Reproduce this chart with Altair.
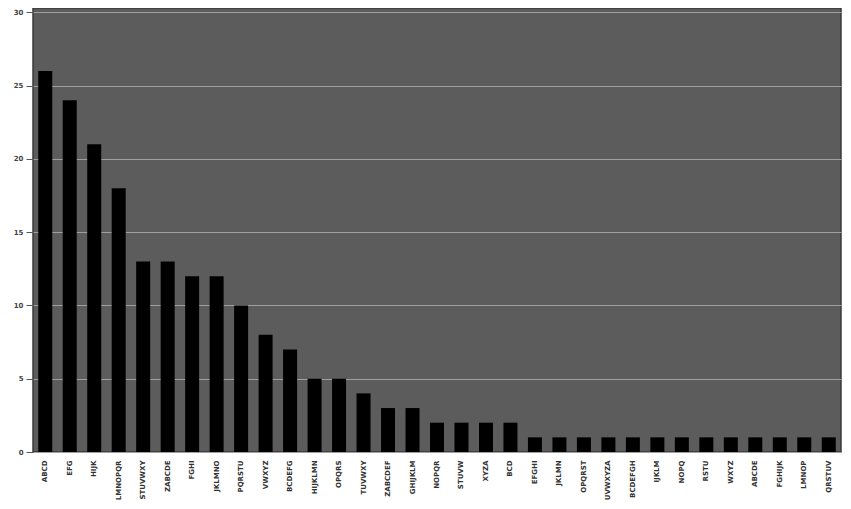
import altair as alt
import pandas as pd

categories = [
    "ABCD", "EFG", "HIJK", "LMNOPQR", "STUVWXY", "ZABCDE", "FGHI", "JKLMNO",
    "PQRSTU", "VWXYZ", "BCDEFG", "HIJKLMN", "OPQRS", "TUVWXY", "ZABCDEF",
    "GHIJKLM", "NOPQR", "STUVW", "XYZA", "BCD", "EFGHI", "JKLMN", "OPQRST",
    "UVWXYZA", "BCDEFGH", "IJKLM", "NOPQ", "RSTU", "WXYZ", "ABCDE",
    "FGHIJK", "LMNOP", "QRSTUV",
]
values = [26, 24, 21, 18, 13, 13, 12, 12, 10, 8, 7, 5, 5, 4, 3, 3, 2, 2, 2, 2,
          1, 1, 1, 1, 1, 1, 1, 1, 1, 1, 1, 1, 1]
y_ticks = [0, 5, 10, 15, 20, 25, 30]

df = pd.DataFrame({"cat": categories, "val": values, "order": list(range(len(values)))})

chart = alt.Chart(df).mark_bar(color="#000000", size=14).encode(
    x=alt.X("cat:N", sort=alt.SortField("order"), title=None,
            axis=alt.Axis(labelAngle=-90, labelFontSize=7, labelColor="#333333",
                          labelFont="DejaVu Sans", labelFontWeight="bold",
                          ticks=False, domain=False, labelPadding=8,
                          labelAlign="right", labelBaseline="middle")),
    y=alt.Y("val:Q", title=None, scale=alt.Scale(domain=[0, 30.3], nice=False),
            axis=alt.Axis(values=y_ticks, labelFontSize=7, labelColor="#444444",
                          labelFont="DejaVu Sans", labelFontWeight="bold",
                          tickColor="#555555", tickSize=7, labelPadding=3,
                          domain=False, grid=True, gridColor="#a0a0a0",
                          gridWidth=1.2)),
).properties(
    width=808, height=444, autosize="none",
    padding={"left": 25, "top": 0, "right": 2, "bottom": 57},
    background="#ffffff",
).configure_view(
    fill="#5c5c5c", stroke="#3a3a3a", strokeWidth=1.5,
)

chart.save("out.html", embed_options={"renderer": "svg", "actions": False})
